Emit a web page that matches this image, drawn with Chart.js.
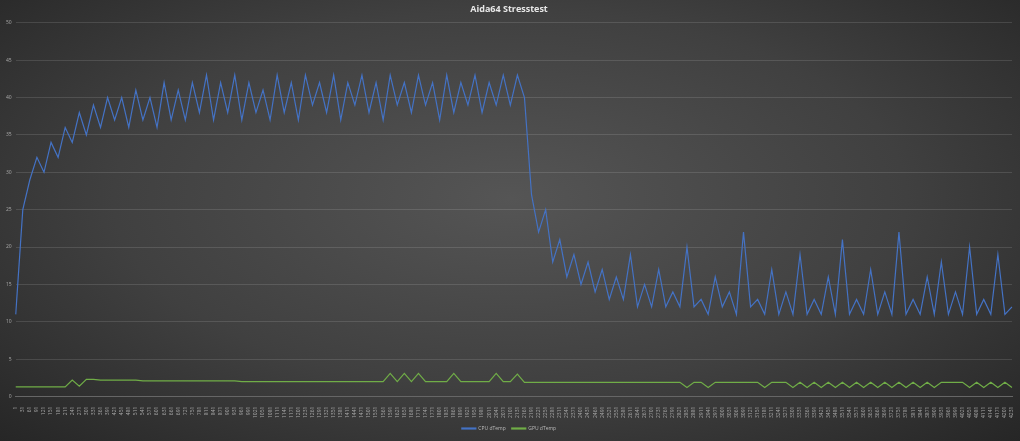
<!DOCTYPE html>
<html>
<head>
<script src="https://cdn.jsdelivr.net/npm/chart.js@4.4.0/dist/chart.umd.min.js"></script>
<style>
html, body { margin: 0; padding: 0; }
body {
    width: 1020px; height: 441px; overflow: hidden;
    background: radial-gradient(ellipse at 50% 45%, #555555 0%, #404040 55%, #262626 100%);
}
#wrap { width: 1020px; height: 441px; }
</style>
</head>
<body>
<div id="wrap"><canvas id="chart"></canvas></div>
<script>
// x labels: one sample every 30 rows
const labels = [];
for (let i = 0; i < 142; i++) labels.push(String(1 + i * 30));

const cpuTemp = [
    11, 25, 29, 32, 30, 34, 32, 36, 34, 38, 35, 39, 36, 40, 37, 40, 36, 41, 37, 40,
    36, 42, 37, 41, 37, 42, 38, 43, 37, 42, 38, 43, 37, 42, 38, 41, 37, 43, 38, 42,
    37, 43, 39, 42, 38, 43, 37, 42, 39, 43, 38, 42, 37, 43, 39, 42, 38, 43, 39, 42,
    37, 43, 38, 42, 39, 43, 38, 42, 39, 43, 39, 43, 40, 27, 22, 25, 18, 21, 16, 19,
    15, 18, 14, 17, 13, 16, 13, 19, 12, 15, 12, 17, 12, 14, 12, 20, 12, 13, 11, 16,
    12, 14, 11, 22, 12, 13, 11, 17, 11, 14, 11, 19, 11, 13, 11, 16, 11, 21, 11, 13,
    11, 17, 11, 14, 11, 22, 11, 13, 11, 16, 11, 18, 11, 14, 11, 20, 11, 13, 11, 19,
    11, 12
];
const gpuTemp = [
    1.3, 1.3, 1.3, 1.3, 1.3, 1.3, 1.3, 1.3, 2.2, 1.4, 2.3, 2.3, 2.2, 2.2, 2.2, 2.2, 2.2, 2.2, 2.1, 2.1,
    2.1, 2.1, 2.1, 2.1, 2.1, 2.1, 2.1, 2.1, 2.1, 2.1, 2.1, 2.1, 2.0, 2.0, 2.0, 2.0, 2.0, 2.0, 2.0, 2.0,
    2.0, 2.0, 2.0, 2.0, 2.0, 2.0, 2.0, 2.0, 2.0, 2.0, 2.0, 2.0, 2.0, 3.1, 2.0, 3.1, 2.0, 3.1, 2.0, 2.0,
    2.0, 2.0, 3.1, 2.0, 2.0, 2.0, 2.0, 2.0, 3.1, 2.0, 2.0, 3.0, 1.9, 1.9, 1.9, 1.9, 1.9, 1.9, 1.9, 1.9,
    1.9, 1.9, 1.9, 1.9, 1.9, 1.9, 1.9, 1.9, 1.9, 1.9, 1.9, 1.9, 1.9, 1.9, 1.9, 1.2, 1.9, 1.9, 1.2, 1.9,
    1.9, 1.9, 1.9, 1.9, 1.9, 1.9, 1.2, 1.9, 1.9, 1.9, 1.2, 1.9, 1.2, 1.9, 1.2, 1.9, 1.2, 1.9, 1.2, 1.9,
    1.2, 1.9, 1.2, 1.9, 1.2, 1.9, 1.2, 1.9, 1.2, 1.9, 1.2, 1.9, 1.9, 1.9, 1.9, 1.2, 1.9, 1.2, 1.9, 1.2,
    1.9, 1.2
];
const seriesNames = ['CPU dTemp', 'GPU dTemp'];

new Chart(document.getElementById('chart'), {
    type: 'line',
    data: {
        labels: labels,
        datasets: [{
            label: seriesNames[0],
            data: cpuTemp,
            borderColor: '#4472c4',
            borderWidth: 1.2,
            pointRadius: 0,
            tension: 0
        }, {
            label: seriesNames[1],
            data: gpuTemp,
            borderColor: '#70ad47',
            borderWidth: 1.2,
            pointRadius: 0,
            tension: 0
        }]
    },
    options: {
        responsive: true,
        maintainAspectRatio: false,
        animation: false,
        layout: { padding: { left: 2, right: 4, top: 0, bottom: 0 } },
        plugins: {
            title: {
                display: true,
                text: 'Aida64 Stresstest',
                color: '#e8e8e8',
                font: { family: 'Open Sans', size: 9, weight: 'bold' },
                padding: { top: 4, bottom: 8 }
            },
            legend: {
                position: 'bottom',
                labels: {
                    color: '#bbbbbb',
                    font: { family: 'Open Sans', size: 5 },
                    boxWidth: 14, boxHeight: 1, padding: 6
                }
            }
        },
        scales: {
            x: {
                grid: { display: false },
                border: { color: '#666666' },
                ticks: {
                    color: '#aaaaaa',
                    font: { family: 'Open Sans', size: 5 },
                    autoSkip: false,
                    maxRotation: 90, minRotation: 90,
                    padding: 2
                }
            },
            y: {
                min: 0, max: 50,
                grid: { color: 'rgba(255,255,255,0.12)', drawTicks: false },
                border: { display: false },
                ticks: {
                    stepSize: 5,
                    color: '#aaaaaa',
                    font: { family: 'Open Sans', size: 5 },
                    padding: 4
                }
            }
        }
    }
});
</script>
</body>
</html>
